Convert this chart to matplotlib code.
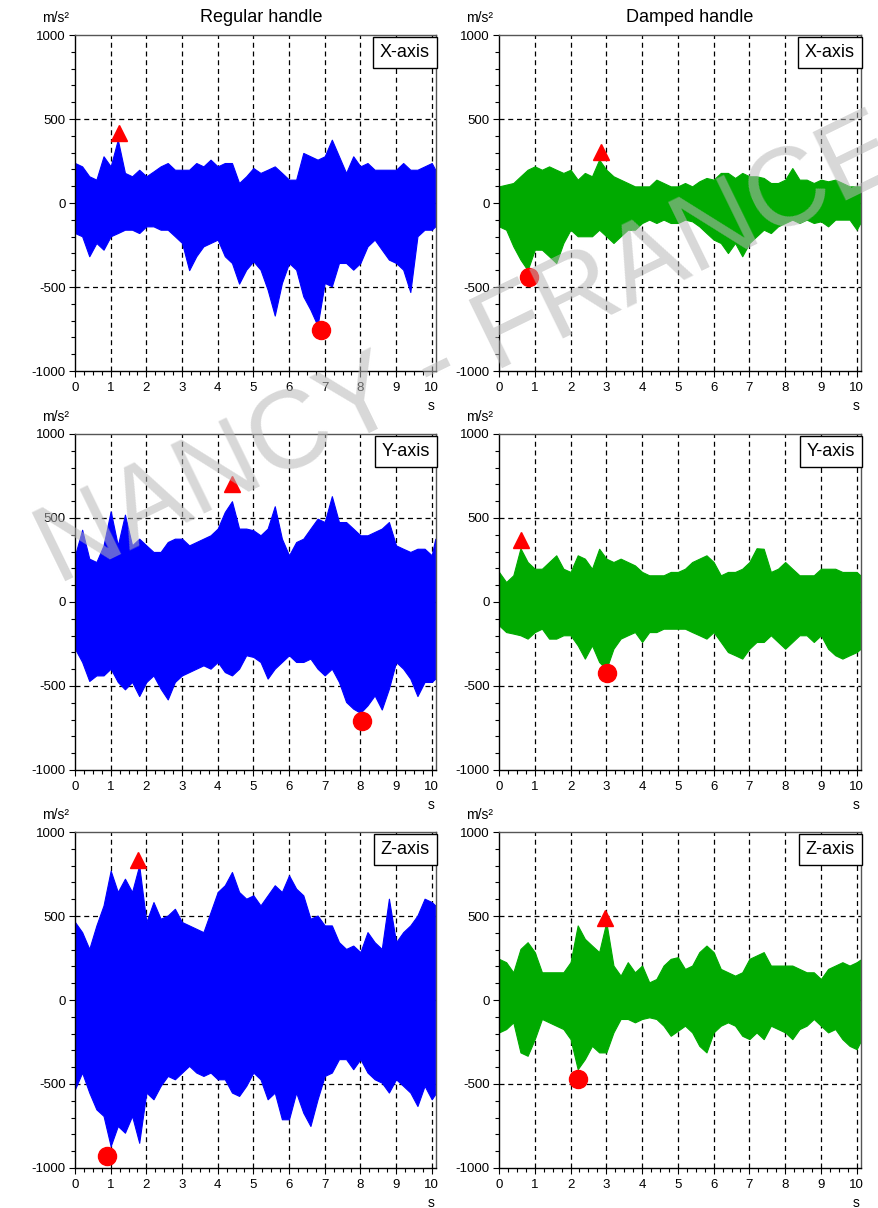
import numpy as np
import matplotlib
matplotlib.use("Agg")
import matplotlib.pyplot as plt
from matplotlib.ticker import MultipleLocator

# ---------------- data ----------------
# common time grid (s) for the envelopes
T = list(np.round(np.arange(0, 10.01, 0.2), 1)) + [10.1]

# Regular handle, X-axis
rx_up = [238, 218, 159, 139, 278, 218, 377, 179, 159, 198,
         159, 188, 218, 238, 198, 198, 198, 238, 218, 258,
         218, 238, 238, 119, 159, 208, 179, 198, 218, 179,
         139, 139, 298, 278, 258, 278, 377, 278, 179, 278,
         218, 238, 198, 198, 198, 198, 238, 198, 198, 218,
         238, 198]
rx_lo = [-179, -198, -317, -238, -278, -198, -179, -159, -159, -179,
         -139, -139, -159, -159, -198, -238, -400, -317, -258, -238,
         -218, -317, -357, -480, -397, -347, -397, -516, -670, -476,
         -357, -397, -556, -635, -730, -476, -496, -357, -357, -397,
         -357, -258, -218, -278, -337, -357, -397, -530, -198, -159,
         -159, -139]
# Damped handle, X-axis
dx_up = [99, 109, 119, 159, 198, 218, 198, 218, 198, 179,
         198, 139, 179, 159, 258, 198, 159, 139, 119, 99,
         99, 99, 139, 119, 99, 99, 119, 99, 129, 149,
         139, 179, 179, 149, 179, 159, 159, 149, 119, 119,
         139, 208, 139, 139, 119, 139, 129, 139, 119, 99,
         99, 99]
dx_lo = [-139, -159, -258, -337, -400, -278, -278, -317, -357, -238,
         -159, -198, -198, -198, -159, -198, -238, -198, -159, -159,
         -119, -99, -119, -99, -119, -119, -99, -109, -139, -179,
         -218, -238, -298, -238, -317, -238, -198, -159, -179, -139,
         -119, -99, -119, -99, -119, -109, -139, -99, -99, -99,
         -159, -119]
# Regular handle, Y-axis
ry_up = [278, 430, 258, 238, 337, 540, 337, 520, 337, 377,
         337, 298, 298, 357, 377, 377, 337, 357, 377, 397,
         437, 536, 600, 437, 437, 427, 397, 437, 570, 377,
         278, 357, 377, 437, 496, 476, 630, 476, 476, 437,
         397, 397, 417, 437, 476, 337, 317, 298, 317, 317,
         278, 377]
ry_lo = [-278, -357, -470, -437, -437, -397, -476, -520, -476, -560,
         -476, -437, -516, -580, -476, -437, -417, -397, -377, -397,
         -357, -417, -437, -397, -317, -327, -357, -456, -397, -357,
         -317, -357, -357, -337, -397, -437, -397, -476, -595, -635,
         -660, -615, -556, -640, -516, -357, -397, -456, -560, -476,
         -476, -456]
# Damped handle, Y-axis
dy_up = [179, 119, 159, 320, 238, 198, 198, 238, 278, 198,
         179, 278, 258, 198, 317, 258, 238, 258, 238, 218,
         179, 159, 159, 159, 179, 179, 198, 238, 258, 278,
         238, 159, 179, 179, 198, 238, 320, 317, 179, 198,
         238, 198, 159, 159, 159, 198, 198, 198, 179, 179,
         179, 159]
dy_lo = [-139, -179, -188, -198, -218, -179, -159, -218, -218, -198,
         -198, -258, -337, -258, -357, -400, -278, -218, -198, -179,
         -238, -179, -179, -159, -159, -159, -159, -179, -198, -218,
         -179, -238, -298, -317, -337, -278, -238, -238, -198, -238,
         -278, -238, -198, -198, -238, -198, -278, -317, -337, -317,
         -298, -280]
# Regular handle, Z-axis
rz_up = [464, 404, 304, 444, 563, 770, 643, 722, 643, 802,
         464, 583, 484, 503, 543, 464, 444, 424, 404, 523,
         643, 683, 762, 643, 603, 623, 563, 623, 683, 643,
         742, 663, 623, 484, 503, 444, 444, 344, 304, 324,
         285, 404, 344, 304, 603, 344, 404, 444, 503, 603,
         583, 563]
rz_lo = [-531, -432, -551, -651, -690, -870, -750, -790, -690, -850,
         -551, -591, -511, -452, -472, -432, -392, -432, -452, -432,
         -472, -472, -551, -571, -511, -432, -472, -591, -551, -710,
         -710, -551, -671, -750, -591, -452, -432, -352, -352, -412,
         -352, -432, -472, -492, -551, -472, -511, -551, -631, -511,
         -591, -560]
# Damped handle, Z-axis
dz_up = [245, 225, 165, 304, 344, 285, 165, 165, 165, 165,
         225, 444, 364, 324, 285, 464, 205, 145, 225, 165,
         205, 105, 125, 205, 245, 255, 185, 205, 285, 324,
         285, 185, 165, 145, 165, 245, 265, 285, 205, 205,
         205, 205, 185, 165, 165, 125, 185, 205, 225, 205,
         225, 240]
dz_lo = [-193, -173, -133, -312, -332, -233, -113, -133, -153, -173,
         -233, -412, -352, -273, -312, -312, -193, -113, -113, -133,
         -113, -103, -113, -153, -213, -183, -153, -193, -273, -312,
         -193, -153, -133, -153, -213, -233, -193, -233, -153, -173,
         -193, -233, -173, -153, -113, -153, -193, -173, -233, -273,
         -293, -250]

# peak markers: (time, value) of maximum and minimum
peaks_max = {"rx": (1.23, 417), "dx": (2.84, 304), "ry": (4.40, 702),
             "dy": (0.62, 369), "rz": (1.76, 833), "dz": (2.95, 488)}
peaks_min = {"rx": (6.89, -756), "dx": (0.84, -440), "ry": (8.04, -708),
             "dy": (3.03, -423), "rz": (0.90, -929), "dz": (2.22, -470)}

col_titles = ["Regular handle", "Damped handle"]
row_labels = ["X-axis", "Y-axis", "Z-axis"]
x_ticks = list(range(0, 11))
y_ticks = [-1000, -500, 0, 500, 1000]

# ---------------- figure ----------------
plt.rcParams["font.family"] = ["Liberation Sans", "DejaVu Sans"]
plt.rcParams["axes.unicode_minus"] = False
W, H = 879, 1208
fig = plt.figure(figsize=(W / 100, H / 100), dpi=100)

def fx(x):
    return x / W

def fy(y):
    return 1 - y / H

rows_px = [(35, 371), (434, 770), (832, 1168)]
cols_px = [(75, 436), (499, 861)]
series = {
    ("r", 0): (rx_up, rx_lo, "rx"), ("d", 0): (dx_up, dx_lo, "dx"),
    ("r", 1): (ry_up, ry_lo, "ry"), ("d", 1): (dy_up, dy_lo, "dy"),
    ("r", 2): (rz_up, rz_lo, "rz"), ("d", 2): (dz_up, dz_lo, "dz"),
}
colors = {"r": "#0000ff", "d": "#00aa00"}
grid_style = dict(color="black", ls=(0, (4, 3)), lw=0.9, zorder=1)

for ri, (top, bot) in enumerate(rows_px):
    for ci, (left, right) in enumerate(cols_px):
        ax = fig.add_axes([fx(left), fy(bot), (right - left) / W, (bot - top) / H])
        key = "r" if ci == 0 else "d"
        up, lo, name = series[(key, ri)]
        c = colors[key]
        # dashed grid, drawn beneath the signal
        for xt in x_ticks[1:]:
            ax.axvline(xt, **grid_style)
        for yt in y_ticks[1:-1]:
            ax.axhline(yt, **grid_style)
        ax.fill_between(T, lo, up, color=c, lw=0.8, edgecolor=c, zorder=3)
        tm, vm = peaks_max[name]
        tn, vn = peaks_min[name]
        ax.plot([tm], [vm], marker="^", color="red", ms=11, mec="red", zorder=5, ls="none")
        ax.plot([tn], [vn], marker="o", color="red", ms=13, mec="red", zorder=5, ls="none")

        ax.set_xlim(0, 10.12)
        ax.set_ylim(-1000, 1000)
        ax.set_xticks(x_ticks)
        ax.set_yticks(y_ticks)
        ax.xaxis.set_minor_locator(MultipleLocator(0.25))
        ax.yaxis.set_minor_locator(MultipleLocator(100))
        ax.tick_params(which="major", length=4, width=0.8, labelsize=9.5)
        ax.tick_params(axis="y", which="major", pad=2.5)
        ax.tick_params(axis="x", which="major", pad=4)
        ax.tick_params(which="minor", length=3, width=0.8)
        for s in ["left", "bottom"]:
            ax.spines[s].set_color("black")
            ax.spines[s].set_linewidth(1.0)
        for s in ["top", "right"]:
            ax.spines[s].set_color("#555555")
            ax.spines[s].set_linewidth(1.0)
        for s in ax.spines.values():
            s.set_zorder(6)

        ax.annotate(row_labels[ri], xy=(1, 1), xycoords="axes fraction",
                    xytext=(-4.5, -6.5), textcoords="offset points", ha="right", va="top",
                    fontsize=13, zorder=7,
                    bbox=dict(boxstyle="square,pad=0.38", facecolor="white",
                              edgecolor="black", lw=1.0))

        fig.text(fx(left - 19), fy(top - 17), "m/s²", ha="center", va="center", fontsize=10)
        fig.text(fx(right - 5), fy(bot + 35), "s", ha="center", va="center", fontsize=10)

title_x = [261, 690]
for ci in range(2):
    fig.text(fx(title_x[ci]), fy(17), col_titles[ci], ha="center",
             va="center", fontsize=13)

# watermark
fig.text(fx(468), fy(352), "NANCY - FRANCE", rotation=26, fontsize=80,
         color="#b8b8b8", alpha=0.55, ha="center", va="center", zorder=10,
         rotation_mode="anchor")

fig.savefig("out.png", dpi=100)
